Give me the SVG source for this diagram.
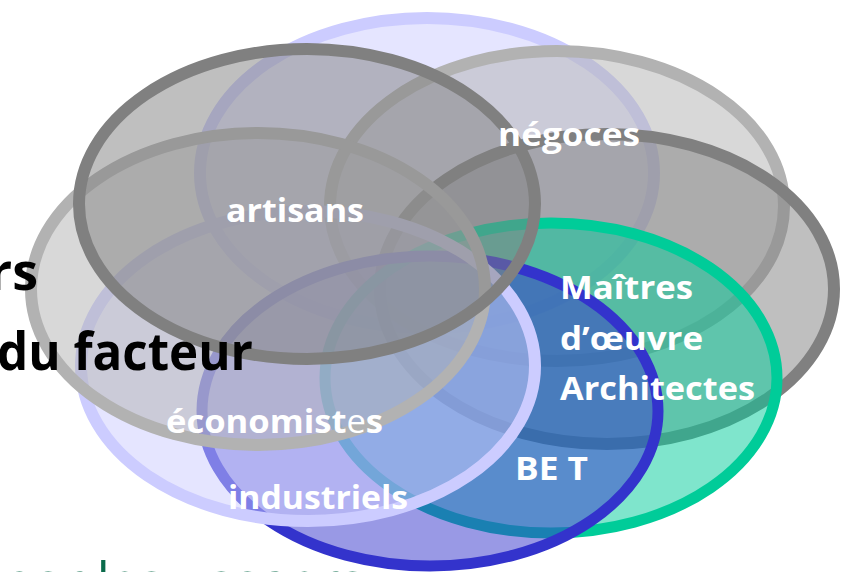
<svg xmlns="http://www.w3.org/2000/svg" width="846" height="572" viewBox="0 0 846 572">
<style>
.e{stroke-width:12}
.dg{fill:rgba(128,128,128,0.5);stroke:#808080}
.lg{fill:rgba(178,178,178,0.5);stroke:#b2b2b2}
.lv{fill:rgba(204,204,255,0.5);stroke:#ccccff}
.bl{fill:rgba(51,51,204,0.5);stroke:#3333cc;stroke-width:11}
.gr{fill:rgba(0,204,153,0.5);stroke:#00cc99;stroke-width:11}
.lbl{font-family:"Open Sans","Liberation Sans",sans-serif;font-weight:bold;font-size:33px;fill:#ffffff}
.bg{font-family:"Open Sans","Liberation Sans",sans-serif;font-weight:bold;font-size:52px;fill:#000000}
</style>
<rect width="846" height="572" fill="#ffffff"/>
<g id="ellipse-lavender-top"><ellipse class="e lv" cx="427" cy="173" rx="227" ry="155"/></g>
<g id="ellipse-negoces"><ellipse class="e lg" cx="557" cy="206" rx="227" ry="155"/></g>
<g id="ellipse-grey-right"><ellipse class="e dg" cx="607" cy="289" rx="227" ry="155"/></g>
<g id="ellipse-maitres"><ellipse class="e gr" cx="551" cy="378" rx="226" ry="155"/></g>
<g id="ellipse-bet"><ellipse class="e bl" cx="430" cy="411" rx="228" ry="155"/></g>
<g id="ellipse-industriels"><ellipse class="e lv" cx="308" cy="366" rx="227" ry="155"/></g>
<g id="ellipse-economistes"><ellipse class="e lg" cx="258" cy="289" rx="227" ry="156"/></g>
<g id="ellipse-artisans"><ellipse class="e dg" cx="307" cy="204" rx="228" ry="155"/></g>
<g id="connectors"></g>
<g id="background-text">
<text class="bg" x="38" y="290" text-anchor="end">rs</text>
<text class="bg" x="-3" y="370" textLength="256" lengthAdjust="spacingAndGlyphs">du facteur</text>
<text x="2" y="598.5" textLength="362" lengthAdjust="spacingAndGlyphs" style="font-family:'Open Sans','Liberation Sans',sans-serif;font-size:52px;fill:#0b6b4b">par les usagers</text>
</g>
<g id="labels">
<text class="lbl" x="498" y="146" textLength="142" lengthAdjust="spacingAndGlyphs">négoces</text>
<text class="lbl" x="226" y="222" textLength="138" lengthAdjust="spacingAndGlyphs">artisans</text>
<text class="lbl" x="560" y="299" textLength="133" lengthAdjust="spacingAndGlyphs">Maîtres</text>
<text class="lbl" x="560" y="350" textLength="143" lengthAdjust="spacingAndGlyphs">d’œuvre</text>
<text class="lbl" x="560" y="400" textLength="195" lengthAdjust="spacingAndGlyphs">Architectes</text>
<text class="lbl" x="515" y="480" textLength="73" lengthAdjust="spacingAndGlyphs">BE T</text>
<text class="lbl" x="166" y="433" textLength="217" lengthAdjust="spacingAndGlyphs">économist<tspan font-weight="normal">e</tspan>s</text>
<text class="lbl" x="228" y="509" textLength="180" lengthAdjust="spacingAndGlyphs">industriels</text>
</g>
</svg>
